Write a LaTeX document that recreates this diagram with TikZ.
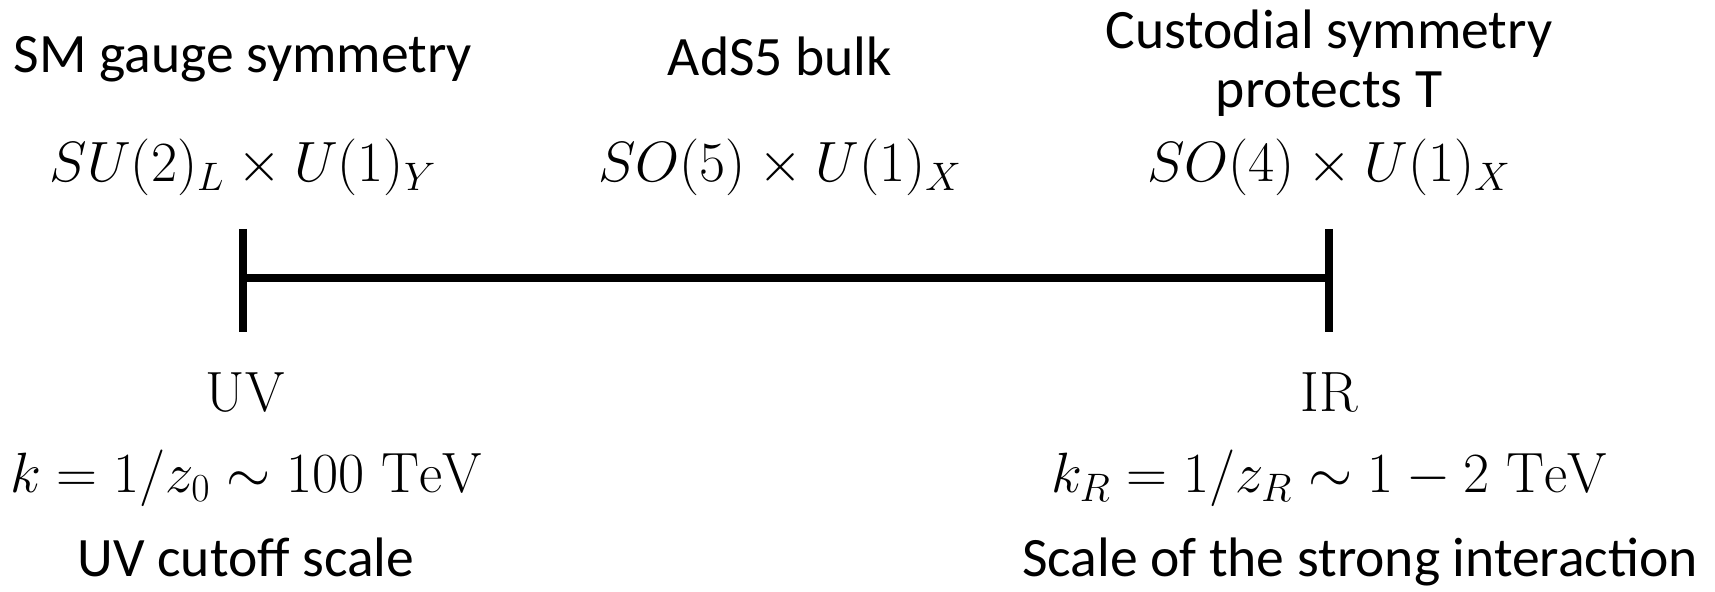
\RequirePackage{fix-cm}
\documentclass[tikz,border=0pt]{standalone}
\usepackage{fontspec}
\newfontfamily\labelfont{Carlito}
\begin{document}
\begin{tikzpicture}[x=0.5pt,y=-0.5pt,
  lbl/.style={font=\labelfont\fontsize{27.8}{33}\selectfont, anchor=base, inner sep=0pt},
  mth/.style={font=\fontsize{28.4}{34}\selectfont, anchor=base, inner sep=0pt},
  barline/.style={line width=4pt, line cap=butt}]
\useasboundingbox (0,0) rectangle (1715,592);
% top labels
\node[lbl] (smtxt) at (243,73) {SM gauge symmetry};
\node[lbl] (adstxt) at (780,76) {AdS5 bulk};
\node[lbl] (cust1) at (1329,49) {Custodial symmetry};
\node[lbl] (cust2) at (1329,108) {protects T};
% groups
\node[mth] (smgrp) at (243,182) {$SU(2)_L\times U(1)_Y$};
\node[mth] (adsgrp) at (780,182) {$SO(5)\times U(1)_X$};
\node[mth] (irgrp) at (1329,182) {$SO(4)\times U(1)_X$};
% the interval
\coordinate (uvtop) at (243,229);
\coordinate (uvbot) at (243,332);
\coordinate (uvmid) at (243,278);
\coordinate (irtop) at (1329,229);
\coordinate (irbot) at (1329,332);
\coordinate (irmid) at (1329,278);
\draw[barline] (uvtop) -- (uvbot);
\draw[barline] (irtop) -- (irbot);
\draw[barline] (uvmid) -- (irmid);
% bottom labels
\node[mth] (uv) at (245,412) {UV};
\node[mth] (ir) at (1329,412) {IR};
\node[mth] (kuv) at (246,493) {$k=1/z_0\sim 100~\mathrm{TeV}$};
\node[mth] (kir) at (1329,493) {$k_R=1/z_R\sim 1-2~\mathrm{TeV}$};
\node[lbl] (uvscale) at (246,577) {UV cutoff scale};
\node[lbl] (irscale) at (1360,577) {Scale of the strong interaction};
\end{tikzpicture}
\end{document}
